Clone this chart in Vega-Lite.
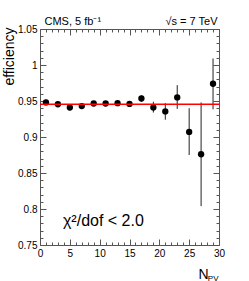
{
  "$schema": "https://vega.github.io/schema/vega-lite/v6.json",
  "width": 179,
  "height": 216,
  "autosize": {"type": "none"},
  "padding": {"left": 40, "top": 29, "right": 30, "bottom": 36},
  "background": "white",
  "config": {
    "font": "Liberation Sans",
    "view": {"stroke": null},
    "axis": {
      "domainColor": "#555555",
      "domainWidth": 1,
      "tickColor": "#555555",
      "tickWidth": 1,
      "labelColor": "#000000",
      "labelFontSize": 10,
      "labelOverlap": false,
      "labelFlush": false,
      "grid": false,
      "titleFontWeight": "normal",
      "titleColor": "#000000"
    }
  },
  "datasets": {
    "eff": [
      {"npv": 1, "eff": 0.948, "lo": 0.944, "hi": 0.952},
      {"npv": 3, "eff": 0.9455, "lo": 0.942, "hi": 0.949},
      {"npv": 5, "eff": 0.941, "lo": 0.937, "hi": 0.945},
      {"npv": 7, "eff": 0.943, "lo": 0.939, "hi": 0.947},
      {"npv": 9, "eff": 0.9465, "lo": 0.943, "hi": 0.95},
      {"npv": 11, "eff": 0.9465, "lo": 0.943, "hi": 0.95},
      {"npv": 13, "eff": 0.947, "lo": 0.943, "hi": 0.951},
      {"npv": 15, "eff": 0.946, "lo": 0.942, "hi": 0.95},
      {"npv": 17, "eff": 0.9535, "lo": 0.949, "hi": 0.958},
      {"npv": 19, "eff": 0.941, "lo": 0.934, "hi": 0.949},
      {"npv": 21, "eff": 0.9355, "lo": 0.924, "hi": 0.947},
      {"npv": 23, "eff": 0.955, "lo": 0.939, "hi": 0.972},
      {"npv": 25, "eff": 0.907, "lo": 0.875, "hi": 0.94},
      {"npv": 27, "eff": 0.876, "lo": 0.804, "hi": 0.948},
      {"npv": 29, "eff": 0.974, "lo": 0.9385, "hi": 1.009}
    ],
    "fit": [{"x0": 0, "x1": 30, "fit": 0.9455}],
    "note": [{"label": "χ²/dof < 2.0", "x": 3.85, "y": 0.776}]
  },
  "layer": [
    {
      "data": {"name": "eff"},
      "mark": {"type": "rule", "color": "#222222", "strokeWidth": 1},
      "encoding": {
        "x": {
          "field": "npv", "type": "quantitative",
          "scale": {"domain": [0, 30], "nice": false, "zero": false},
          "axis": {
            "orient": "bottom",
            "values": [0,1,2,3,4,5,6,7,8,9,10,11,12,13,14,15,16,17,18,19,20,21,22,23,24,25,26,27,28,29,30],
            "labelExpr": "datum.value % 5 === 0 ? datum.label : ''",
            "tickSize": {"condition": {"test": "datum.value % 5 === 0", "value": -6}, "value": -3},
            "labelPadding": 9,
            "title": "N",
            "titleFontSize": 14,
            "titleX": 168,
            "titleY": 33,
            "titleAlign": "right",
            "titleBaseline": "alphabetic"
          }
        },
        "y": {
          "field": "lo", "type": "quantitative",
          "scale": {"domain": [0.75, 1.05], "nice": false, "zero": false},
          "axis": {
            "orient": "left",
            "values": [0.75,0.76,0.77,0.78,0.79,0.8,0.81,0.82,0.83,0.84,0.85,0.86,0.87,0.88,0.89,0.9,0.91,0.92,0.93,0.94,0.95,0.96,0.97,0.98,0.99,1,1.01,1.02,1.03,1.04,1.05],
            "labelExpr": "abs(datum.value*20 - round(datum.value*20)) < 0.001 ? format(datum.value, '.3~g') : ''",
            "tickSize": {"condition": {"test": "abs(datum.value*20 - round(datum.value*20)) < 0.001", "value": -6}, "value": -3},
            "labelPadding": 9,
            "title": "efficiency",
            "titleFontSize": 14,
            "titleAngle": 270,
            "titleX": -31,
            "titleY": -2,
            "titleAlign": "right",
            "titleBaseline": "middle"
          }
        },
        "y2": {"field": "hi"}
      }
    },
    {
      "data": {"name": "eff"},
      "mark": {"type": "point", "shape": "circle", "filled": true, "color": "#000000", "size": 40, "opacity": 1},
      "encoding": {
        "x": {
          "field": "npv", "type": "quantitative",
          "scale": {"domain": [0, 30], "nice": false, "zero": false},
          "axis": {
            "orient": "top",
            "values": [0,1,2,3,4,5,6,7,8,9,10,11,12,13,14,15,16,17,18,19,20,21,22,23,24,25,26,27,28,29,30],
            "labels": false,
            "tickSize": {"condition": {"test": "datum.value % 5 === 0", "value": -6}, "value": -3},
            "title": "CMS, 5 fb⁻¹",
            "titleFontSize": 11,
            "titleX": 4,
            "titleY": -5,
            "titleAlign": "left",
            "titleBaseline": "alphabetic"
          }
        },
        "y": {
          "field": "eff", "type": "quantitative",
          "scale": {"domain": [0.75, 1.05], "nice": false, "zero": false},
          "axis": {
            "orient": "right",
            "values": [0.75,0.76,0.77,0.78,0.79,0.8,0.81,0.82,0.83,0.84,0.85,0.86,0.87,0.88,0.89,0.9,0.91,0.92,0.93,0.94,0.95,0.96,0.97,0.98,0.99,1,1.01,1.02,1.03,1.04,1.05],
            "labels": false,
            "tickSize": {"condition": {"test": "abs(datum.value*20 - round(datum.value*20)) < 0.001", "value": -6}, "value": -3},
            "title": null
          }
        }
      }
    },
    {
      "data": {"name": "fit"},
      "mark": {"type": "rule", "color": "#ff0000", "strokeWidth": 1.5},
      "encoding": {
        "x": {
          "field": "x0", "type": "quantitative",
          "scale": {"domain": [0, 30], "nice": false, "zero": false},
          "axis": {
            "orient": "bottom",
            "ticks": false, "labels": false, "domain": false,
            "title": "PV",
            "titleFontSize": 8,
            "titleX": 178,
            "titleY": 35,
            "titleAlign": "right",
            "titleBaseline": "alphabetic"
          }
        },
        "x2": {"field": "x1"},
        "y": {
          "field": "fit", "type": "quantitative",
          "scale": {"domain": [0.75, 1.05], "nice": false, "zero": false},
          "axis": null
        }
      }
    },
    {
      "data": {"name": "note"},
      "mark": {"type": "text", "align": "left", "baseline": "alphabetic", "fontSize": 16, "color": "#000000"},
      "encoding": {
        "text": {"field": "label"},
        "x": {
          "field": "x", "type": "quantitative",
          "scale": {"domain": [0, 30], "nice": false, "zero": false},
          "axis": {
            "orient": "top",
            "ticks": false, "labels": false, "domain": false,
            "title": "√s = 7 TeV",
            "titleFontSize": 11,
            "titleX": 177,
            "titleY": -5,
            "titleAlign": "right",
            "titleBaseline": "alphabetic"
          }
        },
        "y": {
          "field": "y", "type": "quantitative",
          "scale": {"domain": [0.75, 1.05], "nice": false, "zero": false},
          "axis": null
        }
      }
    }
  ],
  "resolve": {"axis": {"x": "independent", "y": "independent"}}
}
